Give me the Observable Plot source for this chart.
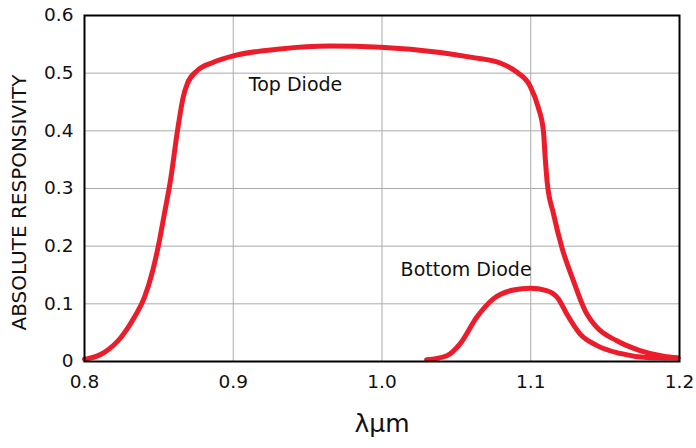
<!DOCTYPE html>
<html>
<head>
<meta charset="utf-8">
<script src="https://cdn.jsdelivr.net/npm/d3@7"></script>
<script src="https://cdn.jsdelivr.net/npm/@observablehq/plot@0.6"></script>
<style>
  body { margin: 0; background: #fff; }
  svg { font-family: "DejaVu Sans", sans-serif; }
</style>
</head>
<body>
<div id="chart"></div>
<script>
const topX = [0.8000, 0.8022, 0.8134, 0.8246, 0.8336, 0.8403, 0.8459, 0.8504, 0.8537, 0.8578, 0.8625, 0.8665, 0.869, 0.8756, 0.8867, 0.900, 0.9315, 0.965, 0.999, 1.039, 1.0615, 1.079, 1.0905, 1.0995, 1.105, 1.1085, 1.1097, 1.1110, 1.1153, 1.1209, 1.1287, 1.1366, 1.1445, 1.1579, 1.1735, 1.1892, 1.1990];
const topY = [0.004, 0.005, 0.016, 0.042, 0.077, 0.111, 0.158, 0.210, 0.256, 0.314, 0.400, 0.460, 0.481, 0.504, 0.519, 0.530, 0.542, 0.547, 0.545, 0.536, 0.527, 0.518, 0.502, 0.478, 0.441, 0.400, 0.354, 0.312, 0.256, 0.198, 0.140, 0.088, 0.059, 0.036, 0.019, 0.009, 0.006];
const bottomX = [1.030, 1.0436, 1.0526, 1.0638, 1.075, 1.0884, 1.0995, 1.1107, 1.1185, 1.1241, 1.1331, 1.1443, 1.160, 1.178, 1.199];
const bottomY = [0.003, 0.010, 0.031, 0.077, 0.109, 0.124, 0.127, 0.123, 0.109, 0.083, 0.048, 0.028, 0.014, 0.007, 0.006];
const xTicks = [0.8, 0.9, 1.0, 1.1, 1.2];
const yTicks = [0, 0.1, 0.2, 0.3, 0.4, 0.5, 0.6];
const seriesLabels = [
  {x: 0.9105, y: 0.479, text: "Top Diode"},
  {x: 1.0125, y: 0.159, text: "Bottom Diode"}
];
const xLabel = "λμm";
const yLabel = "ABSOLUTE RESPONSIVITY";

const topData = topX.map((x, i) => ({x, y: topY[i]}));
const bottomData = bottomX.map((x, i) => ({x, y: bottomY[i]}));
const red = "#ec1c2b";

const chart = Plot.plot({
  width: 696,
  height: 448,
  marginLeft: 84,
  marginRight: 17,
  marginTop: 15,
  marginBottom: 87,
  style: {fontFamily: "DejaVu Sans, sans-serif", background: "#fff"},
  x: {domain: [0.8, 1.2]},
  y: {domain: [0, 0.6]},
  marks: [
    Plot.gridX(xTicks, {stroke: "#aaa", strokeOpacity: 1, strokeWidth: 1}),
    Plot.gridY(yTicks, {stroke: "#aaa", strokeOpacity: 1, strokeWidth: 1}),
    Plot.axisX(xTicks, {tickSize: 0, tickPadding: 13, fontSize: 18.5, label: null, tickFormat: d => d.toFixed(1), fill: "#111"}),
    Plot.axisY(yTicks, {tickSize: 0, tickPadding: 11, fontSize: 18.5, label: null, tickFormat: d => d === 0 ? "0" : d.toFixed(1), fill: "#111"}),
    Plot.line(topData, {x: "x", y: "y", curve: "monotone-x", stroke: red, strokeWidth: 5, strokeLinecap: "round", strokeLinejoin: "round"}),
    Plot.line(bottomData, {x: "x", y: "y", curve: "monotone-x", stroke: red, strokeWidth: 5, strokeLinecap: "round", strokeLinejoin: "round"}),
    Plot.text(seriesLabels, {x: "x", y: "y", text: "text", textAnchor: "start", fontSize: 19, fill: "#111"}),
    Plot.text([xLabel], {frameAnchor: "bottom", dy: 70, fontSize: 25, fill: "#111"}),
    Plot.text([yLabel], {frameAnchor: "left", textAnchor: "middle", dx: -65, dy: 14, rotate: -90, fontSize: 20, fill: "#111"}),
    Plot.frame({stroke: "#000", strokeWidth: 2})
  ]
});
document.getElementById("chart").appendChild(chart);
</script>
</body>
</html>
